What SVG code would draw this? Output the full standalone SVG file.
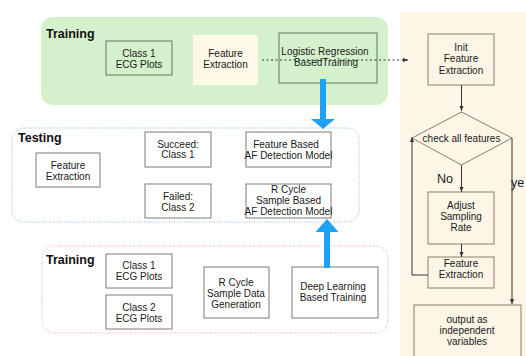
<svg xmlns="http://www.w3.org/2000/svg" width="526" height="356" viewBox="0 0 526 356">
<style>
text{font-family:"Liberation Sans",Arial,sans-serif;font-size:10px;fill:#1a1a1a;text-anchor:middle}
.title{font-size:12.5px;font-weight:bold;text-anchor:start;fill:#111}
.lbl{font-size:12.5px;text-anchor:start;fill:#1a1a1a}
.bx{fill:none;stroke:#7a7a7a;stroke-width:1}
.bg{fill:none;stroke:#5f7c5b;stroke-width:1}
.bc{fill:none;stroke:#8a7e6b;stroke-width:1}
.ln{fill:none;stroke:#333;stroke-width:1}
.blue{fill:#1ea2f8}
</style>
<defs>
<marker id="ah" viewBox="0 0 10 10" refX="10" refY="5" markerWidth="5" markerHeight="5" orient="auto" markerUnits="userSpaceOnUse">
<path d="M0,1 L10,5 L0,9 Z" fill="#333"/>
</marker>
</defs>
<g id="panels">
<rect x="400" y="12" width="130" height="350" fill="#fdf6e6"/>
<rect x="41" y="17" width="347" height="88" rx="12" fill="#d4f1cc"/>
<rect x="12" y="128" width="347" height="94" rx="12" fill="none" stroke="#86bde9" stroke-width="1" stroke-dasharray="1,1.5"/>
<rect x="42" y="246" width="346" height="87" rx="12" fill="none" stroke="#f2a3a3" stroke-width="1" stroke-dasharray="1,1.5"/>
<text class="title" x="46" y="38">Training</text>
<text class="title" x="18" y="142">Testing</text>
<text class="title" x="46" y="264">Training</text>
</g>
<g id="n-class1-top"><rect class="bg" x="106" y="41" width="66" height="34"/><text x="139" y="56.5">Class 1</text><text x="139" y="67.5">ECG Plots</text></g>
<g id="n-fe-top"><rect x="193" y="35" width="65" height="50" fill="#fff8e6"/><text x="225.5" y="56.5">Feature</text><text x="225.5" y="67.5">Extraction</text></g>
<g id="n-logreg"><rect class="bg" x="279" y="33" width="98" height="50"/><text x="325" y="55">Logistic Regression</text><text x="326" y="66">BasedTraining</text></g>
<g id="n-fe-test"><rect class="bx" x="36" y="153" width="64" height="34"/><text x="68" y="168.5">Feature</text><text x="68" y="179.5">Extraction</text></g>
<g id="n-succeed"><rect class="bx" x="145" y="132" width="66" height="35"/><text x="178" y="147.5">Succeed:</text><text x="178" y="158">Class 1</text></g>
<g id="n-failed"><rect class="bx" x="145" y="184" width="66" height="34"/><text x="178" y="200">Failed:</text><text x="178" y="211">Class 2</text></g>
<g id="n-fbmodel"><rect class="bx" x="246" y="132" width="85" height="35"/><text x="286" y="147.5">Feature Based</text><text x="288.5" y="158.5">AF Detection Model</text></g>
<g id="n-rcmodel"><rect class="bx" x="246" y="184" width="85" height="34"/><text x="288.5" y="193">R Cycle</text><text x="288.5" y="203.5">Sample Based</text><text x="288.5" y="214.5">AF Detection Model</text></g>
<g id="n-class1-bot"><rect class="bx" x="106" y="254" width="66" height="34"/><text x="139" y="269">Class 1</text><text x="139" y="280">ECG Plots</text></g>
<g id="n-class2-bot"><rect class="bx" x="106" y="295" width="66" height="34"/><text x="139" y="310.5">Class 2</text><text x="139" y="321.5">ECG Plots</text></g>
<g id="n-rcgen"><rect class="bx" x="204" y="267" width="65" height="51"/><text x="236" y="285.5">R Cycle</text><text x="236" y="296.5">Sample Data</text><text x="236" y="307.5">Generation</text></g>
<g id="n-deep"><rect class="bx" x="292" y="267" width="86" height="51"/><text x="333" y="289.5">Deep Learning</text><text x="333" y="300.5">Based Training</text></g>
<g id="n-init"><rect class="bc" x="428" y="34" width="66" height="51"/><text x="461" y="50.5">Init</text><text x="461" y="62">Feature</text><text x="461" y="73.5">Extraction</text></g>
<g id="n-check"><polygon class="bc" points="461.5,112 512,138 461.5,165 412,138"/><text x="461.5" y="142">check all features</text></g>
<g id="n-adjust"><rect class="bc" x="428" y="192" width="66" height="52"/><text x="461" y="209">Adjust</text><text x="461" y="220">Sampling</text><text x="461" y="230.5">Rate</text></g>
<g id="n-fe-right"><rect class="bc" x="428" y="257" width="66" height="31"/><text x="461" y="267">Feature</text><text x="461" y="278">Extraction</text></g>
<g id="n-output"><rect class="bc" x="414" y="305" width="107" height="60"/><text x="467" y="323">output as</text><text x="467" y="334">independent</text><text x="467" y="345">variables</text></g>
<g id="connectors">
<line x1="262" y1="60" x2="408" y2="60" stroke="#333" stroke-width="1" stroke-dasharray="2,2.5" marker-end="url(#ah)"/>
<rect class="blue" x="320" y="79" width="6" height="41"/>
<polygon class="blue" points="311,119 335,119 323,129"/>
<rect class="blue" x="324" y="231" width="6" height="37"/>
<polygon class="blue" points="315.5,232 338.5,232 327,219"/>
<line class="ln" x1="461.5" y1="85" x2="461.5" y2="111" marker-end="url(#ah)"/>
<line class="ln" x1="461.5" y1="165" x2="461.5" y2="192" marker-end="url(#ah)"/>
<line class="ln" x1="461.5" y1="244" x2="461.5" y2="257" marker-end="url(#ah)"/>
<polyline class="ln" points="428,275 412,275 412,137" marker-end="url(#ah)"/>
<line class="ln" x1="512" y1="138" x2="512" y2="304" marker-end="url(#ah)"/>
<text class="lbl" x="437" y="183">No</text>
<text class="lbl" x="511" y="187">ye</text>
</g>
</svg>
